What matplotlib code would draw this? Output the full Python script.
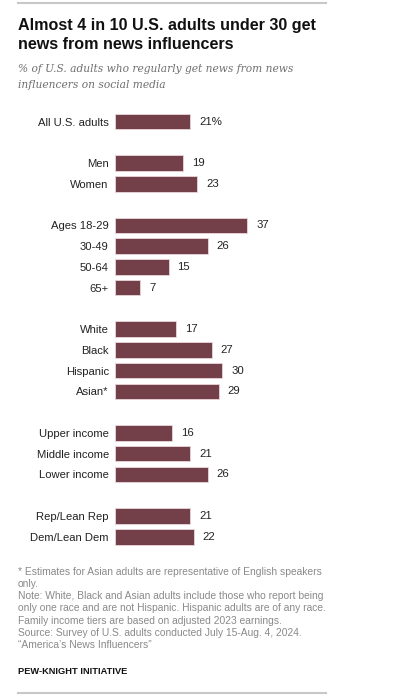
import matplotlib
matplotlib.use("Agg")
import matplotlib.pyplot as plt
from matplotlib.lines import Line2D

categories = [
    "All U.S. adults",
    "Men", "Women",
    "Ages 18-29", "30-49", "50-64", "65+",
    "White", "Black", "Hispanic", "Asian*",
    "Upper income", "Middle income", "Lower income",
    "Rep/Lean Rep", "Dem/Lean Dem",
]
values = [21, 19, 23, 37, 26, 15, 7, 17, 27, 30, 29, 16, 21, 26, 21, 22]
# row slots, with an empty slot between groups
slots = [0, 2, 3, 5, 6, 7, 8, 10, 11, 12, 13, 15, 16, 17, 19, 20]

title = "Almost 4 in 10 U.S. adults under 30 get\nnews from news influencers"
subtitle = "% of U.S. adults who regularly get news from news\ninfluencers on social media"
notes = (
    "* Estimates for Asian adults are representative of English speakers\n"
    "only.\n"
    "Note: White, Black and Asian adults include those who report being\n"
    "only one race and are not Hispanic. Hispanic adults are of any race.\n"
    "Family income tiers are based on adjusted 2023 earnings.\n"
    "Source: Survey of U.S. adults conducted July 15-Aug. 4, 2024.\n"
    "\u201cAmerica\u2019s News Influencers\u201d"
)
credit = "PEW-KNIGHT INITIATIVE"

BAR = "#733f48"
GREY = "#8a8a8a"
SANS = ["Liberation Sans", "DejaVu Sans"]
SERIF = ["DejaVu Serif"]

W, H = 393, 698
fig = plt.figure(figsize=(W / 100, H / 100), dpi=100)
fig.patch.set_facecolor("white")


def fx(px):
    return px / W


def fy(py):
    return 1 - py / H


# rules top and bottom
fig.add_artist(Line2D([fx(18), fx(326)], [fy(3), fy(3)], color="#c8c8c8", lw=1.5))
fig.add_artist(Line2D([fx(18), fx(326)], [fy(692.5), fy(692.5)], color="#c8c8c8", lw=1.5))

fig.text(fx(18), fy(18), title, ha="left", va="top", fontsize=11.6,
         fontweight="bold", family=SANS, color="#111111", linespacing=1.36)
fig.text(fx(18), fy(63.5), subtitle, ha="left", va="top", fontsize=7.65,
         style="italic", family=SERIF, color="#6f6f6f", linespacing=1.75)

# bar axes: x 0..50 -> 115.3..294 px; slots -0.5..20.5 -> 111.3..547.1 px
px_per_unit = (247.3 - 115.3) / 37
ax = fig.add_axes([fx(115.3), fy(547.1), fx(50 * px_per_unit), (547.1 - 111.3) / H])
ax.barh(slots, values, height=0.75, color=BAR, edgecolor="#e8d6da", linewidth=0.6)
ax.set_xlim(0, 50)
ax.set_ylim(20.5, -0.5)
ax.set_yticks(slots)
ax.set_yticklabels(categories, family=SANS, fontsize=8.1, color="#222222")
ax.tick_params(axis="y", length=0, pad=4.7)
ax.set_xticks([])
for s in ax.spines.values():
    s.set_visible(False)

for i, (s, v) in enumerate(zip(slots, values)):
    label = f"{v}%" if i == 0 else f"{v}"
    ax.annotate(label, (v, s), xytext=(6.3, 0), textcoords="offset points",
                ha="left", va="center", family=SANS, fontsize=8.2, color="#222222")

fig.text(fx(18), fy(567), notes, ha="left", va="top", fontsize=7.35,
         family=SANS, color=GREY, linespacing=1.27)
fig.text(fx(18), fy(667.5), credit, ha="left", va="top", fontsize=6.7,
         fontweight="bold", family=SANS, color="#111111")

fig.savefig("out.png", dpi=100, facecolor="white")
